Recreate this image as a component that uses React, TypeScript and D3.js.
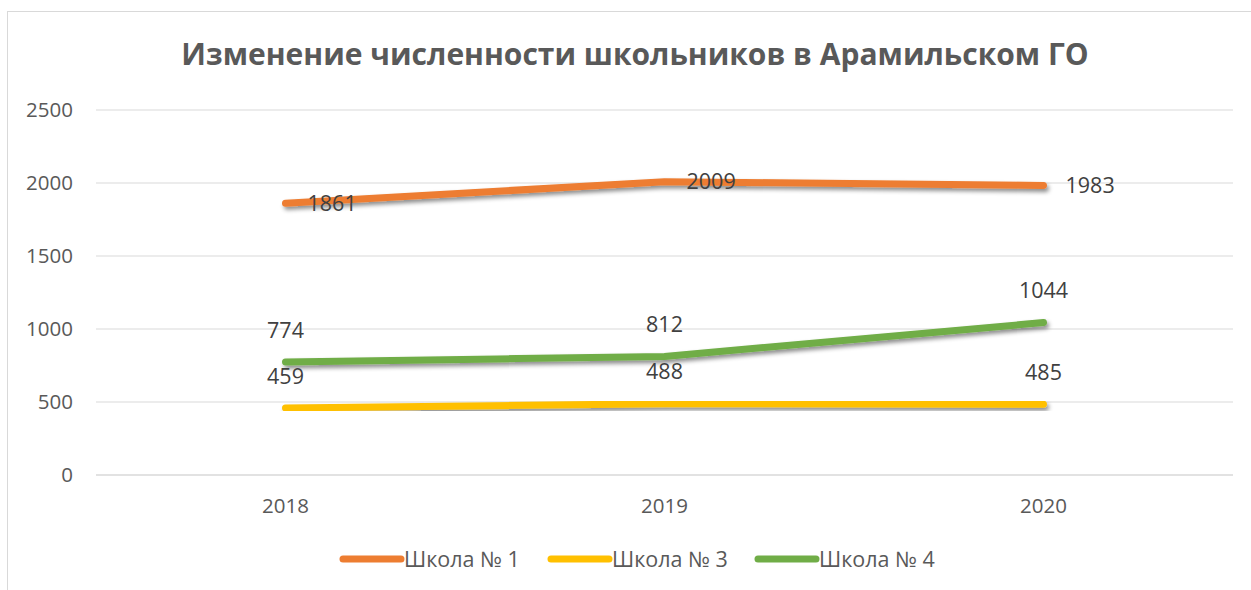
import React from "react";
import * as d3 from "d3";

const years = ["2018", "2019", "2020"];
const seriesNames = ["Школа № 1", "Школа № 3", "Школа № 4"];
const school1 = [1861, 2009, 1983];
const school3 = [459, 488, 485];
const school4 = [774, 812, 1044];
const yTicks = [0, 500, 1000, 1500, 2000, 2500];

const title = "Изменение численности школьников в Арамильском ГО";

const colors = ["#ED7D31", "#FFC000", "#70AD47"];
const font = "'Open Sans', sans-serif";

const App: React.FC = () => {
  const width = 1251;
  const height = 590;
  const plot = { left: 96, right: 1233, top: 110, bottom: 475 };

  const x = d3
    .scaleBand<string>()
    .domain(years)
    .range([plot.left, plot.right]);
  const cx = (yr: string) => (x(yr) ?? 0) + x.bandwidth() / 2;

  const y = d3.scaleLinear().domain([0, 2500]).range([plot.bottom, plot.top]);

  const line = d3
    .line<number>()
    .x((_, i) => cx(years[i]))
    .y((d) => y(d));

  const series = [
    { name: seriesNames[0], values: school1, color: colors[0], pos: "right" },
    { name: seriesNames[1], values: school3, color: colors[1], pos: "above" },
    { name: seriesNames[2], values: school4, color: colors[2], pos: "above" },
  ];

  // legend layout, items placed side by side
  const legendX = [343, 551, 758];

  return (
    <svg
      width={width}
      height={height}
      style={{ position: "absolute", left: 0, top: 0, background: "#fff" }}
    >
      <defs>
        <filter id="shadow" x="-10%" y="-50%" width="120%" height="200%">
          <feDropShadow dx="2" dy="3" stdDeviation="2" floodColor="#000" floodOpacity="0.45" />
        </filter>
      </defs>

      <rect x={7.5} y={11.5} width={1260} height={600} fill="#fff" stroke="#d9d9d9" />

      <text
        x={635}
        y={65}
        textAnchor="middle"
        fontFamily={font}
        fontWeight="bold"
        fontSize={30}
        fill="#595959"
      >
        {title}
      </text>

      {yTicks.map((t) => (
        <g key={t}>
          <line
            x1={plot.left}
            x2={plot.right}
            y1={y(t)}
            y2={y(t)}
            stroke="#d9d9d9"
            strokeWidth={t === 0 ? 1.5 : 1.2}
          />
          <text
            x={73}
            y={y(t)}
            dy="0.36em"
            textAnchor="end"
            fontFamily={font}
            fontSize={20.5}
            fill="#595959"
          >
            {t}
          </text>
        </g>
      ))}

      {years.map((yr) => (
        <text
          key={yr}
          x={cx(yr)}
          y={513}
          textAnchor="middle"
          fontFamily={font}
          fontSize={20.5}
          fill="#595959"
        >
          {yr}
        </text>
      ))}

      {series.map((s) => (
        <path
          key={s.name}
          d={line(s.values) ?? ""}
          fill="none"
          stroke={s.color}
          strokeWidth={7}
          strokeLinecap="round"
          strokeLinejoin="round"
          filter="url(#shadow)"
        />
      ))}

      {series.map((s) =>
        s.values.map((v, i) => (
          <text
            key={s.name + i}
            x={s.pos === "right" ? cx(years[i]) + 22 : cx(years[i])}
            y={s.pos === "right" ? y(v) : y(v) - 32}
            dy="0.36em"
            textAnchor={s.pos === "right" ? "start" : "middle"}
            fontFamily={font}
            fontSize={21.5}
            fill="#404040"
          >
            {v}
          </text>
        ))
      )}

      {series.map((s, i) => (
        <g key={s.name} transform={`translate(${legendX[i]},559)`}>
          <line x1={0} x2={58} y1={0} y2={0} stroke={s.color} strokeWidth={7} strokeLinecap="round" />
          <text x={61} y={0} dy="0.36em" fontFamily={font} fontSize={21.5} fill="#595959">
            {s.name}
          </text>
        </g>
      ))}
    </svg>
  );
};

export default App;
